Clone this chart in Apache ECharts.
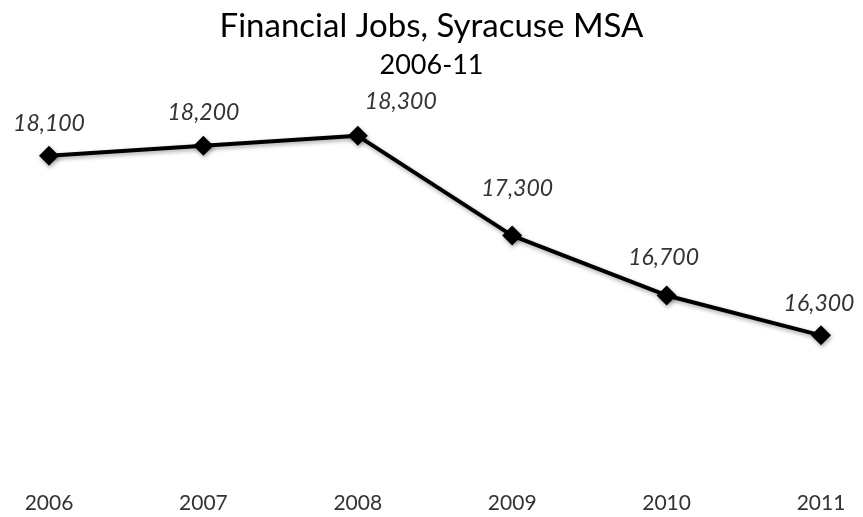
<!DOCTYPE html>
<html>
<head>
<meta charset="utf-8">
<script src="https://cdn.jsdelivr.net/npm/echarts@6/dist/echarts.min.js"></script>
<style>
  html, body { margin: 0; padding: 0; background: #fff; }
  #chart { width: 863px; height: 517px; }
</style>
</head>
<body>
<div id="chart"></div>
<script>
var years = ["2006", "2007", "2008", "2009", "2010", "2011"];
var jobs = [18100, 18200, 18300, 17300, 16700, 16300];
// hand-placed label nudges, as in the original
var labelOffsets = [[0, 0], [0, -1], [43, -2], [5, -15], [-3, -5], [-2, 1]];

var myChart = echarts.init(document.getElementById("chart"), null, { renderer: "canvas" });

var font = "Lato, 'Open Sans', sans-serif";

var seriesData = jobs.map(function (v, i) {
  return { value: v, label: { offset: labelOffsets[i] } };
});

var option = {
  backgroundColor: "#fff",
  animation: false,
  title: [
    {
      text: "Financial Jobs, Syracuse MSA",
      left: "center",
      top: 5,
      textStyle: { fontFamily: font, fontSize: 33, fontWeight: "normal", color: "#000" }
    },
    {
      text: "2006-11",
      left: "center",
      top: 47,
      textStyle: { fontFamily: font, fontSize: 27, fontWeight: "normal", color: "#000" }
    }
  ],
  grid: { left: 49, right: 42, top: 66, bottom: 32, containLabel: false },
  xAxis: {
    type: "category",
    data: years,
    boundaryGap: false,
    axisLine: { show: false },
    axisTick: { show: false },
    axisLabel: { margin: 8, fontFamily: font, fontSize: 21, color: "#333" }
  },
  yAxis: {
    type: "value",
    min: 14800,
    max: 19000,
    show: false,
    splitLine: { show: false }
  },
  series: [
    {
      type: "line",
      data: seriesData,
      symbol: "diamond",
      symbolSize: 20,
      lineStyle: {
        color: "#000",
        width: 4,
        shadowColor: "rgba(0,0,0,0.35)",
        shadowBlur: 4,
        shadowOffsetX: 1,
        shadowOffsetY: 2
      },
      itemStyle: {
        color: "#000",
        borderWidth: 0,
        shadowColor: "rgba(0,0,0,0.35)",
        shadowBlur: 4,
        shadowOffsetX: 1,
        shadowOffsetY: 2
      },
      label: {
        show: true,
        position: "top",
        distance: 11,
        fontFamily: font,
        fontStyle: "italic",
        fontSize: 23,
        color: "#333",
        formatter: function (p) {
          return p.value.toLocaleString("en-US");
        }
      }
    }
  ]
};

myChart.setOption(option);
window.addEventListener("resize", myChart.resize);
</script>
</body>
</html>
